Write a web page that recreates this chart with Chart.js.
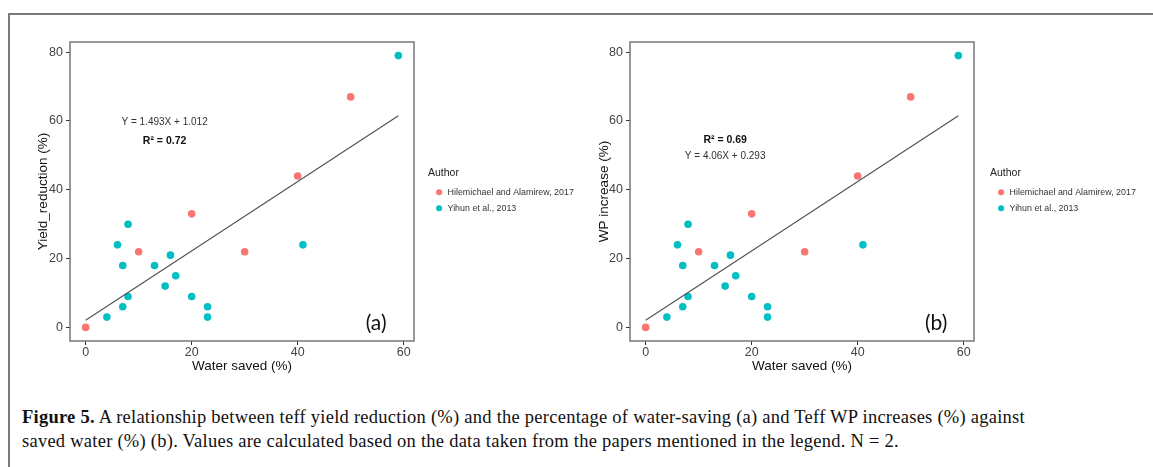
<!DOCTYPE html>
<html>
<head>
<meta charset="utf-8">
<script src="https://cdn.jsdelivr.net/npm/chart.js@4.4.0/dist/chart.umd.min.js"></script>
<style>
    html, body { margin: 0; padding: 0; background: #fff; }
    body { width: 1153px; height: 467px; position: relative; overflow: hidden; font-family: "Liberation Sans", Arial, sans-serif; }
    #frame { position: absolute; left: 8px; top: 13px; right: -4px; bottom: -4px; border-top: 2px solid #7a7a7a; border-left: 2px solid #7a7a7a; }
    .panel { position: absolute; top: 0; height: 380px; }
    #panelA { left: 0; width: 600px; }
    #panelB { left: 580px; width: 573px; }
    #caption { position: absolute; left: 22px; top: 406px; font-family: "Liberation Serif", "Times New Roman", serif; font-size: 18.5px; letter-spacing: 0.25px; line-height: 23.7px; color: #111; white-space: nowrap; }
</style>
</head>
<body>
<div id="frame"></div>
<div class="panel" id="panelA"><canvas id="chartA"></canvas></div>
<div class="panel" id="panelB"><canvas id="chartB"></canvas></div>
<div id="caption"><b>Figure 5.</b> A relationship between teff yield reduction (%) and the percentage of water-saving (a) and Teff WP increases (%) against<br>saved water (%) (b). Values are calculated based on the data taken from the papers mentioned in the legend. N = 2.</div>

<script>
//--- Data
var authors = ['Hilemichael and Alamirew, 2017', 'Yihun et al., 2013'];
var authorColors = ['#F8766D', '#00BFC4'];

// Hilemichael and Alamirew, 2017
var hileWater = [0, 10, 20, 30, 40, 50];
var hileYield = [0, 22, 33, 22, 44, 67];
var hileWP = [0, 22, 33, 22, 44, 67];

// Yihun et al., 2013
var yihunWater = [4, 6, 7, 7, 8, 8, 13, 15, 16, 17, 20, 23, 23, 41, 59];
var yihunYield = [3, 24, 6, 18, 9, 30, 18, 12, 21, 15, 9, 6, 3, 24, 79];
var yihunWP = [3, 24, 6, 18, 9, 30, 18, 12, 21, 15, 9, 6, 3, 24, 79];

// fitted lines (ends as drawn)
var fitX = [0, 59];
var fitYield = [2.1, 61.5];
var fitWP = [2.1, 61.5];

// axis ticks
var xTicks = [0, 20, 40, 60];
var yTicks = [0, 20, 40, 60, 80];

var FONT = '"Liberation Sans", Arial, sans-serif';
var LEG_SIZE = 8.9, LEG_PAD = 7.1, LEG_BOX = 8;

function toPoints(xs, ys) {
    var pts = [];
    for (var i = 0; i < xs.length; i++) {
        pts.push({ x: xs[i], y: ys[i] });
    }
    return pts;
};

// width chart.js will give the legend (right side, one column)
function legendWidth() {
    var ctx = document.createElement('canvas').getContext('2d');
    ctx.font = LEG_SIZE + 'px ' + FONT;
    var w = 0;
    authors.forEach(function (a) { w = Math.max(w, ctx.measureText(a).width); });
    return LEG_PAD + LEG_BOX + LEG_SIZE / 2 + w + 10;
};

// panel box + text notes placed in data units
function notesPlugin(notes) {
    return {
        id: 'notes',
        afterDatasetsDraw: function (chart) {
            var ctx = chart.ctx;
            var a = chart.chartArea;
            var xs = chart.scales.x, ys = chart.scales.y;
            ctx.save();
            ctx.strokeStyle = '#6e6e6e';
            ctx.lineWidth = 1.4;
            ctx.strokeRect(a.left, a.top, a.right - a.left, a.bottom - a.top);
            notes.forEach(function (n) {
                ctx.font = n.font;
                ctx.fillStyle = n.color;
                ctx.textAlign = 'center';
                ctx.textBaseline = 'middle';
                ctx.fillText(n.text, xs.getPixelForValue(n.x), ys.getPixelForValue(n.y));
            });
            ctx.restore();
        }
    };
};

function makeChart(id, opt) {
    var datasets = [
        {
            label: 'fit', type: 'line', data: toPoints(fitX, opt.fitY),
            borderColor: '#505050', borderWidth: 1.1, pointRadius: 0, fill: false
        },
        {
            label: authors[0], data: toPoints(hileWater, opt.hileY),
            backgroundColor: authorColors[0], borderWidth: 0, pointRadius: 3.8, pointHoverRadius: 3.8
        },
        {
            label: authors[1], data: toPoints(yihunWater, opt.yihunY),
            backgroundColor: authorColors[1], borderWidth: 0, pointRadius: 3.8, pointHoverRadius: 3.8
        }
    ];
    var padRight = opt.canvasWidth - opt.legendLeft - legendWidth();
    return new Chart(document.getElementById(id), {
        type: 'scatter',
        data: { datasets: datasets },
        options: {
            responsive: true,
            maintainAspectRatio: false,
            animation: false,
            layout: { padding: { top: 42, left: 0, bottom: 0, right: padRight } },
            scales: {
                x: {
                    type: 'linear', position: 'bottom', min: -2.95, max: 61.95,
                    afterBuildTicks: function (s) { s.ticks = xTicks.map(function (v) { return { value: v }; }); },
                    afterFit: function (s) { s.height = 39; },
                    grid: { display: true, drawOnChartArea: false, drawTicks: true, tickLength: 4, tickColor: '#333', tickWidth: 1 },
                    border: { display: false },
                    ticks: { color: '#444', padding: 0, font: { family: FONT, size: 12.5 } },
                    title: { display: true, text: 'Water saved (%)', color: '#111', padding: { top: 0, bottom: 6 }, font: { family: FONT, size: 13.5 } }
                },
                y: {
                    type: 'linear', position: 'left', min: -3.95, max: 82.95,
                    afterBuildTicks: function (s) { s.ticks = yTicks.map(function (v) { return { value: v }; }); },
                    afterFit: function (s) { s.width = opt.yWidth; },
                    grid: { display: true, drawOnChartArea: false, drawTicks: true, tickLength: 4, tickColor: '#333', tickWidth: 1 },
                    border: { display: false },
                    ticks: { color: '#444', padding: 3, font: { family: FONT, size: 12.5 } },
                    title: { display: true, text: opt.yTitle, color: '#111', padding: { top: opt.yTitlePad, bottom: 0 }, font: { family: FONT, size: 13.5 } }
                },
                gap: {
                    type: 'linear', position: 'right', display: true,
                    afterFit: function (s) { s.width = opt.gap; },
                    grid: { display: false }, border: { display: false }, ticks: { display: false }
                }
            },
            plugins: {
                tooltip: { enabled: false },
                legend: {
                    position: 'right', align: 'center', fullSize: false, maxWidth: 400,
                    title: { display: true, text: 'Author', position: 'start', color: '#222', padding: { top: 5, bottom: 0 }, font: { family: FONT, size: 10.5 } },
                    labels: {
                        usePointStyle: true, pointStyle: 'circle', boxWidth: LEG_BOX, boxHeight: 4.3, padding: LEG_PAD,
                        color: '#333', font: { family: FONT, size: LEG_SIZE },
                        filter: function (item) { return item.text !== 'fit'; }
                    }
                }
            }
        },
        plugins: [notesPlugin(opt.notes)]
    });
};

makeChart('chartA', {
    yTitle: 'Yield_reduction (%)', yWidth: 70, yTitlePad: 35, gap: 14, canvasWidth: 600, legendLeft: 428,
    fitY: fitYield, hileY: hileYield, yihunY: yihunYield,
    notes: [
        { text: 'Y = 1.493X + 1.012', x: 14.9, y: 59.7, font: '10px ' + FONT, color: '#333' },
        { text: 'R\u00B2 = 0.72', x: 14.9, y: 54.2, font: 'bold 10.5px ' + FONT, color: '#111' },
        { text: '(a)', x: 54.8, y: 1.3, font: '21px Lato, "Open Sans", sans-serif', color: '#111' }
    ]
});

makeChart('chartB', {
    yTitle: 'WP increase (%)', yWidth: 50, yTitlePad: 16, gap: 16, canvasWidth: 573, legendLeft: 410,
    fitY: fitWP, hileY: hileWP, yihunY: yihunWP,
    notes: [
        { text: 'R\u00B2 = 0.69', x: 15.0, y: 54.3, font: 'bold 10.5px ' + FONT, color: '#111' },
        { text: 'Y = 4.06X + 0.293', x: 15.0, y: 49.8, font: '10px ' + FONT, color: '#333' },
        { text: '(b)', x: 54.8, y: 1.3, font: '21px Lato, "Open Sans", sans-serif', color: '#111' }
    ]
});
</script>
</body>
</html>
